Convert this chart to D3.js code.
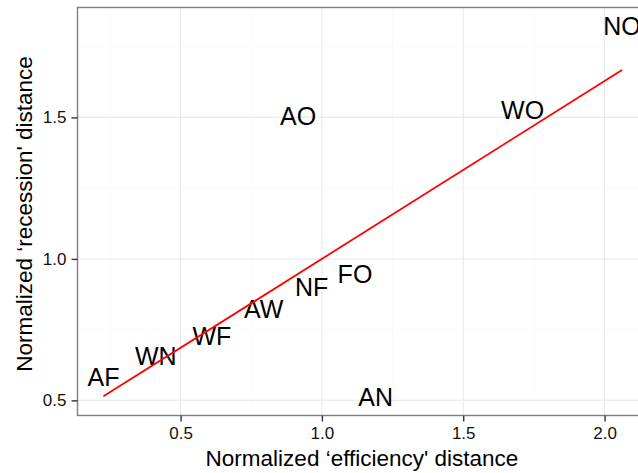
<!DOCTYPE html>
<html lang="en">
<head>
    <meta charset="UTF-8">
    <title>Efficiency vs recession distance</title>
    <script src="https://cdn.jsdelivr.net/npm/d3@7"></script>
    <style>
        body { margin: 0; background: #fff; }
        svg { display: block; font-family: "Liberation Sans", Arial, Helvetica, sans-serif; }
    </style>
</head>
<body>
    <script>
        // data
        const labels = ["AF", "WN", "WF", "AW", "NF", "FO", "AO", "WO", "NO", "AN"];
        const efficiency = [0.227, 0.412, 0.611, 0.794, 0.964, 1.117, 0.916, 1.710, 2.062, 1.190];
        const recession = [0.584, 0.655, 0.727, 0.823, 0.899, 0.947, 1.506, 1.527, 1.823, 0.512];
        const xTicks = [0.5, 1.0, 1.5, 2.0];
        const yTicks = [0.5, 1.0, 1.5];

        const width = 638;
        const height = 473;

        let points = labels.map((d, i) => ({ label: d, x: efficiency[i], y: recession[i] }));

        // ggplot-style 5% expansion
        function expand(ext) {
            const pad = (ext[1] - ext[0]) * 0.05;
            return [ext[0] - pad, ext[1] + pad];
        }

        let x = d3.scaleLinear().domain(expand(d3.extent(efficiency))).range([77.5, 648]);
        let y = d3.scaleLinear().domain(expand(d3.extent(recession))).range([415.5, 7.5]);

        // least squares fit, like geom_smooth(method = "lm")
        const mx = d3.mean(efficiency), my = d3.mean(recession);
        const slope = d3.sum(points, d => (d.x - mx) * (d.y - my)) / d3.sum(points, d => (d.x - mx) ** 2);
        const intercept = my - slope * mx;
        const fitX = d3.extent(efficiency);

        let svg = d3.select("body").append("svg")
            .attr("width", width)
            .attr("height", height);

        const [panelLeft, panelRight] = x.range();
        const [panelBottom, panelTop] = y.range();

        svg.append("rect")
            .attr("x", panelLeft).attr("y", panelTop)
            .attr("width", panelRight - panelLeft).attr("height", panelBottom - panelTop)
            .attr("fill", "#fff");

        // minor grid
        const xMinor = d3.range(0.25, 2.3, 0.5);
        const yMinor = d3.range(0.75, 2, 0.5);
        let grid = svg.append("g");
        grid.selectAll(".xminor").data(xMinor).enter().append("line")
            .attr("x1", d => x(d)).attr("x2", d => x(d))
            .attr("y1", panelTop).attr("y2", panelBottom)
            .attr("stroke", "#fafafa").attr("stroke-width", 1);
        grid.selectAll(".yminor").data(yMinor).enter().append("line")
            .attr("x1", panelLeft).attr("x2", panelRight)
            .attr("y1", d => y(d)).attr("y2", d => y(d))
            .attr("stroke", "#fafafa").attr("stroke-width", 1);

        // major grid
        grid.selectAll(".xmajor").data(xTicks).enter().append("line")
            .attr("x1", d => x(d)).attr("x2", d => x(d))
            .attr("y1", panelTop).attr("y2", panelBottom)
            .attr("stroke", "#ebebeb").attr("stroke-width", 1.2);
        grid.selectAll(".ymajor").data(yTicks).enter().append("line")
            .attr("x1", panelLeft).attr("x2", panelRight)
            .attr("y1", d => y(d)).attr("y2", d => y(d))
            .attr("stroke", "#ebebeb").attr("stroke-width", 1.2);

        // labels
        svg.append("g").selectAll("text")
            .data(points)
            .enter()
            .append("text")
            .attr("x", d => x(d.x))
            .attr("y", d => y(d.y))
            .attr("dy", "0.36em")
            .attr("text-anchor", "middle")
            .attr("font-size", 25)
            .attr("fill", "#000")
            .text(d => d.label);

        // fitted line
        svg.append("line")
            .attr("x1", x(fitX[0])).attr("y1", y(intercept + slope * fitX[0]))
            .attr("x2", x(fitX[1])).attr("y2", y(intercept + slope * fitX[1]))
            .attr("stroke", "#ff0000")
            .attr("stroke-width", 1.8);

        // panel border
        svg.append("rect")
            .attr("x", panelLeft).attr("y", panelTop)
            .attr("width", panelRight - panelLeft).attr("height", panelBottom - panelTop)
            .attr("fill", "none")
            .attr("stroke", "#7f7f7f")
            .attr("stroke-width", 1.4);

        // axes
        let xAxis = svg.append("g")
            .attr("transform", `translate(0, ${panelBottom})`)
            .call(d3.axisBottom(x).tickValues(xTicks).tickFormat(d3.format(".1f")).tickSizeInner(6).tickSizeOuter(0).tickPadding(5));
        let yAxis = svg.append("g")
            .attr("transform", `translate(${panelLeft}, 0)`)
            .call(d3.axisLeft(y).tickValues(yTicks).tickFormat(d3.format(".1f")).tickSizeInner(6).tickSizeOuter(0).tickPadding(5));

        [xAxis, yAxis].forEach(a => {
            a.select(".domain").remove();
            a.selectAll(".tick line").attr("stroke", "#333").attr("stroke-width", 1.4);
            a.selectAll(".tick text")
                .attr("font-size", 17)
                .attr("font-family", "Liberation Sans, Arial, sans-serif")
                .attr("fill", "#111");
        });

        // axis titles
        svg.append("text")
            .attr("x", 362)
            .attr("y", 466)
            .attr("text-anchor", "middle")
            .attr("font-size", 22.5)
            .attr("fill", "#000")
            .text("Normalized \u2018efficiency' distance");

        svg.append("text")
            .attr("transform", "translate(32, 214) rotate(-90)")
            .attr("text-anchor", "middle")
            .attr("font-size", 22.5)
            .attr("fill", "#000")
            .text("Normalized \u2018recession' distance");
    </script>
</body>
</html>
